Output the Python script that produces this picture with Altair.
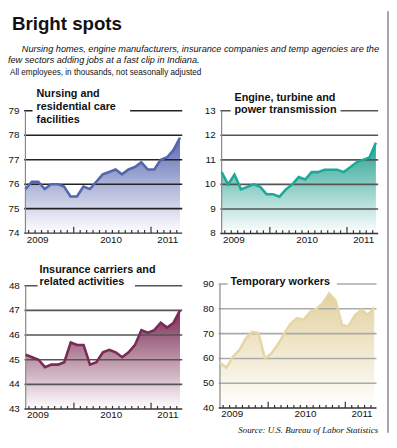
import altair as alt
import pandas as pd

# ---------------- data ----------------
months = list(range(25))  # May 2009 .. May 2011, monthly
nursing = [75.8, 76.1, 76.1, 75.8, 76.0, 76.0, 75.9, 75.5, 75.5, 75.9, 75.8, 76.1, 76.4,
           76.5, 76.6, 76.4, 76.6, 76.7, 76.9, 76.6, 76.6, 77.0, 77.1, 77.4, 77.9]
engine = [10.5, 10.0, 10.4, 9.8, 9.9, 10.0, 9.9, 9.6, 9.6, 9.5, 9.8, 10.0, 10.3,
          10.2, 10.5, 10.5, 10.6, 10.6, 10.6, 10.5, 10.7, 10.9, 11.0, 11.1, 11.7]
insurance = [45.2, 45.1, 45.0, 44.7, 44.8, 44.8, 44.9, 45.7, 45.6, 45.6, 44.8, 44.9, 45.3,
             45.4, 45.3, 45.1, 45.3, 45.6, 46.2, 46.1, 46.2, 46.5, 46.3, 46.5, 47.0]
temp = [58.4, 56.2, 60.7, 63.3, 67.9, 70.7, 70.2, 60.0, 62.0, 65.6, 70.0, 74.0, 76.2,
        75.6, 78.7, 80.0, 82.3, 86.2, 83.2, 73.4, 73.0, 77.4, 79.6, 77.6, 80.5]

year_labels = ["2009", "2010", "2011"]
year_label_pos = [1.9, 13.3, 22.1]
minor_ticks = [k + 0.5 for k in range(24)]
major_ticks = [7.5, 19.5]

nursing_ticks = [74, 75, 76, 77, 78, 79]
engine_ticks = [8, 9, 10, 11, 12, 13]
insurance_ticks = [43, 44, 45, 46, 47, 48]
temp_ticks = [40, 50, 60, 70, 80, 90]

heading = "Bright spots"
sub1 = "Nursing homes, engine manufacturers, insurance companies and temp agencies are the"
sub2 = "few sectors adding jobs at a fast clip in Indiana."
sub3 = "All employees, in thousands, not seasonally adjusted"
source = "Source: U.S. Bureau of Labor Statistics"

FONT = "Liberation Sans, Arial, sans-serif"
SERIF = "Liberation Serif, DejaVu Serif, serif"

panels = [
    dict(values=nursing, ticks=nursing_ticks,
         title=["Nursing and", "residential care", "facilities"],
         xr=[17.7, 174.7], yr=[225.3, 101], line="#5666ae", fill="#5a69b1",
         grid="#222222", tx=29, ty=[84.3, 97.7, 110.3], gap=[1.1, 16.25], xl_y=232),
    dict(values=engine, ticks=engine_ticks,
         title=["Engine, turbine and", "power transmission"],
         xr=[217, 373.7], yr=[225.7, 101], line="#1fa897", fill="#22a08f",
         grid="#555555", tx=230, ty=[87.7, 100.3], gap=[1.4, 18.5], xl_y=232),
    dict(values=insurance, ticks=insurance_ticks,
         title=["Insurance carriers and", "related activities"],
         xr=[18, 174.7], yr=[404, 278.7], line="#7a2b55", fill="#7a2a52",
         grid="#555555", tx=32, ty=[262.7, 275.3], gap=[1.85, 17.0], xl_y=410),
    dict(values=temp, ticks=temp_ticks,
         title=["Temporary workers"],
         xr=[215.3, 372], yr=[403, 277], line="#e6d6a6", fill="#e3d19e",
         grid="#aaaaaa", tx=226, ty=[275.3], gap=[1.2, 18.2], xl_y=409),
]

dummy = pd.DataFrame({"a": [0]})
layers = []

for p in panels:
    lo, hi = p["ticks"][0], p["ticks"][-1]
    px_per_unit = (p["yr"][0] - p["yr"][1]) / (hi - lo)
    xs = alt.Scale(domain=[0, 24], range=p["xr"], nice=False, zero=False)
    ys = alt.Scale(domain=[lo, hi], range=p["yr"], nice=False, zero=False)

    def XQ(f):
        return alt.X(f, type="quantitative", scale=xs, axis=None)

    def YQ(f):
        return alt.Y(f, type="quantitative", scale=ys, axis=None)

    df = pd.DataFrame({"m": months, "v": p["values"], "base": [lo] * len(months)})

    grad = {"gradient": "linear", "x1": 1, "x2": 1, "y1": 0, "y2": 1,
            "stops": [{"offset": 0, "color": p["fill"]},
                      {"offset": 1, "color": "#ffffff"}]}
    layers.append(alt.Chart(df).mark_area(color=grad).encode(
        x=XQ("m"), y=YQ("v"), y2=alt.Y2("base")))

    # gridlines
    gdf = pd.DataFrame({"g": p["ticks"][1:], "x0": -0.2, "x1": 24.35})
    layers.append(alt.Chart(gdf).mark_rule(color=p["grid"], strokeWidth=1.6).encode(
        x=XQ("x0"), x2=alt.X2("x1"), y=YQ("g")))

    # white gap behind title on top gridline
    off = 3.5 / px_per_unit
    gap_df = pd.DataFrame({"a0": [p["gap"][0]], "a1": [p["gap"][1]],
                           "b0": [hi + off], "b1": [hi - off]})
    layers.append(alt.Chart(gap_df).mark_rect(color="white").encode(
        x=XQ("a0"), x2=alt.X2("a1"), y=YQ("b0"), y2=alt.Y2("b1")))

    # y axis line
    ax_df = pd.DataFrame({"x": [0], "y0": [lo], "y1": [hi], "x0": [-0.2], "x1": [24.35]})
    layers.append(alt.Chart(ax_df).mark_rule(color="#888888", strokeWidth=1.2).encode(
        x=XQ("x"), y=YQ("y0"), y2=alt.Y2("y1")))

    # baseline
    layers.append(alt.Chart(ax_df).mark_rule(color="#333333", strokeWidth=1.5).encode(
        x=XQ("x0"), x2=alt.X2("x1"), y=YQ("y0")))

    # x ticks (pointing up)
    tdf = pd.DataFrame({
        "t": minor_ticks,
        "bot": [lo] * len(minor_ticks),
        "top": [lo + (6.5 if t in major_ticks else 3.2) / px_per_unit for t in minor_ticks],
    })
    layers.append(alt.Chart(tdf).mark_rule(color="#333333", strokeWidth=1.2).encode(
        x=XQ("t"), y=YQ("bot"), y2=alt.Y2("top")))

    # data line
    layers.append(alt.Chart(df).mark_line(color=p["line"], strokeWidth=2.6).encode(
        x=XQ("m"), y=YQ("v")))

    # y labels
    ldf = pd.DataFrame({"g": p["ticks"], "s": [str(t) for t in p["ticks"]],
                        "x": [0] * len(p["ticks"])})
    layers.append(alt.Chart(ldf).mark_text(align="right", baseline="middle", dx=-6,
                                            fontSize=10, font=FONT, color="#111111").encode(
        x=XQ("x"), y=YQ("g"), text="s:N"))

    # x labels
    xdf = pd.DataFrame({"pos": year_label_pos, "lab": year_labels})
    layers.append(alt.Chart(xdf).mark_text(align="center", baseline="middle",
                                            fontSize=10, font=FONT, color="#111111").encode(
        x=XQ("pos"), y=alt.value(p["xl_y"]), text="lab:N"))

    # panel title
    for line_text, yy in zip(p["title"], p["ty"]):
        layers.append(alt.Chart(dummy).mark_text(
            align="left", baseline="middle", fontSize=11, fontWeight="bold",
            font=FONT, color="#111111", text=line_text).encode(
            x=alt.value(p["tx"]), y=alt.value(yy)))

# headings
texts = [
    (heading, 4, 19, 19, "bold", "normal", "alphabetic", FONT, "left"),
    (sub1, 14, 38, 9.3, "normal", "italic", "middle", FONT, "left"),
    (sub2, 0, 50, 9.3, "normal", "italic", "middle", FONT, "left"),
    (sub3, 2, 63, 8.3, "normal", "normal", "middle", FONT, "left"),
    (source, 376, 425, 9, "normal", "italic", "middle", SERIF, "right"),
]
for t, x, y, fs, fw, st, bl, fnt, al in texts:
    layers.append(alt.Chart(dummy).mark_text(
        align=al, baseline=bl, fontSize=fs, fontWeight=fw, fontStyle=st,
        font=fnt, color="#111111", text=t).encode(
        x=alt.value(x), y=alt.value(y)))

# right frame line
layers.append(alt.Chart(dummy).mark_rule(color="#888888", strokeWidth=1.5).encode(
    x=alt.value(386), y=alt.value(0), y2=alt.value(428)))

chart = alt.layer(*layers).resolve_scale(x="independent", y="independent").properties(
    width=387, height=428, padding=0,
    autosize=alt.AutoSizeParams(type="none"),
).configure_view(stroke=None)

chart.save("out.html", embed_options={"renderer": "svg", "actions": False})
